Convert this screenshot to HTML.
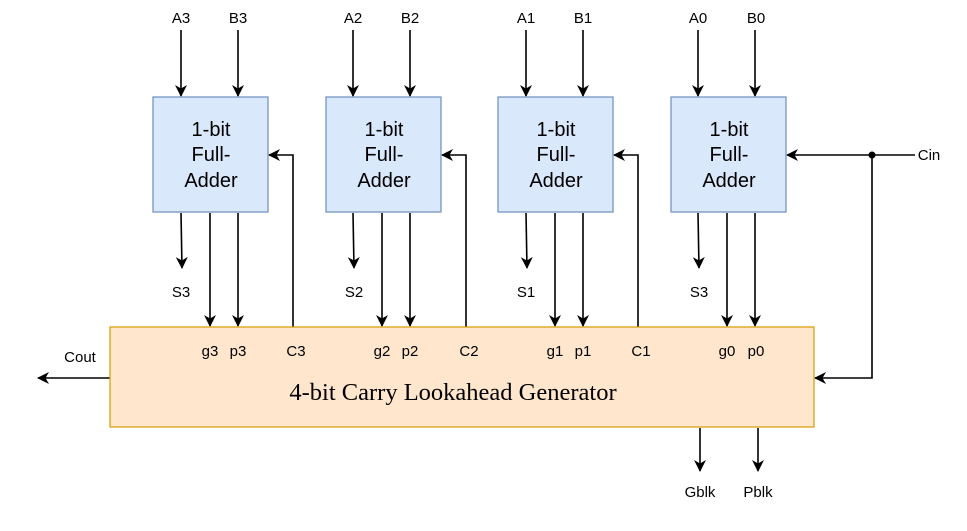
<!DOCTYPE html>
<html><head><style>body{margin:0;background:#fff}svg{display:block}</style></head><body>
<svg width="967" height="531" xmlns="http://www.w3.org/2000/svg" font-family="Liberation Sans, sans-serif">
<defs><marker id="a" markerWidth="12" markerHeight="12" refX="11" refY="6" orient="auto" markerUnits="userSpaceOnUse"><path d="M0,0 L12,6 L0,12 L3.5,6 z" fill="#000"/></marker></defs>
<g stroke="#000" stroke-width="1.6" fill="none">
<g id="col">
<line x1="181" y1="30" x2="181" y2="96" marker-end="url(#a)"/>
<line x1="238" y1="30" x2="238" y2="96" marker-end="url(#a)"/>
<line x1="181" y1="213" x2="182" y2="268" marker-end="url(#a)"/>
<line x1="210" y1="213" x2="210" y2="326" marker-end="url(#a)"/>
<line x1="238" y1="213" x2="238" y2="326" marker-end="url(#a)"/>
</g>
<use href="#col" x="172"/><use href="#col" x="345"/><use href="#col" x="517"/>
<polyline points="293,327 293,155 269,155" marker-end="url(#a)"/>
<polyline points="466,327 466,155 442,155" marker-end="url(#a)"/>
<polyline points="638,327 638,155 614,155" marker-end="url(#a)"/>
<line x1="915" y1="155" x2="787" y2="155" marker-end="url(#a)"/>
<polyline points="872,155 872,378 815,378" marker-end="url(#a)"/>
<line x1="110" y1="378" x2="38" y2="378" marker-end="url(#a)"/>
<line x1="700" y1="428" x2="700" y2="471" marker-end="url(#a)"/>
<line x1="758" y1="428" x2="758" y2="471" marker-end="url(#a)"/>
</g>
<circle cx="872" cy="155" r="3.5" fill="#000"/>
<g fill="#dae8fc" stroke="#6c8ebf" stroke-width="1.2">
<rect x="153" y="97" width="115" height="115"/><rect x="326" y="97" width="115" height="115"/>
<rect x="498" y="97" width="115" height="115"/><rect x="671" y="97" width="115" height="115"/>
</g>
<rect x="110" y="327" width="704" height="100" fill="#ffe6cc" stroke="#d79b00" stroke-width="1.2"/>
<g font-size="20" text-anchor="middle" fill="#000">
<text x="211" y="136">1-bit</text><text x="211" y="161">Full-</text><text x="211" y="187">Adder</text>
<text x="384" y="136">1-bit</text><text x="384" y="161">Full-</text><text x="384" y="187">Adder</text>
<text x="556" y="136">1-bit</text><text x="556" y="161">Full-</text><text x="556" y="187">Adder</text>
<text x="729" y="136">1-bit</text><text x="729" y="161">Full-</text><text x="729" y="187">Adder</text>
</g>
<g font-size="15" text-anchor="middle" fill="#000">
<text x="181" y="23">A3</text><text x="238" y="23">B3</text>
<text x="353" y="23">A2</text><text x="410" y="23">B2</text>
<text x="526" y="23">A1</text><text x="583" y="23">B1</text>
<text x="698" y="23">A0</text><text x="756" y="23">B0</text>
<text x="181" y="297">S3</text><text x="354" y="297">S2</text><text x="526" y="297">S1</text><text x="699" y="297">S3</text>
<text x="210" y="356">g3</text><text x="238" y="356">p3</text><text x="296" y="356">C3</text>
<text x="382" y="356">g2</text><text x="410" y="356">p2</text><text x="469" y="356">C2</text>
<text x="555" y="356">g1</text><text x="583" y="356">p1</text><text x="641" y="356">C1</text>
<text x="727" y="356">g0</text><text x="756" y="356">p0</text>
<text x="929" y="160">Cin</text><text x="80" y="362">Cout</text>
<text x="700" y="497">Gblk</text><text x="758" y="497">Pblk</text>
</g>
<text x="453" y="400" font-family="Liberation Serif, serif" font-size="24.5" text-anchor="middle">4-bit Carry Lookahead Generator</text>
</svg>
</body></html>
